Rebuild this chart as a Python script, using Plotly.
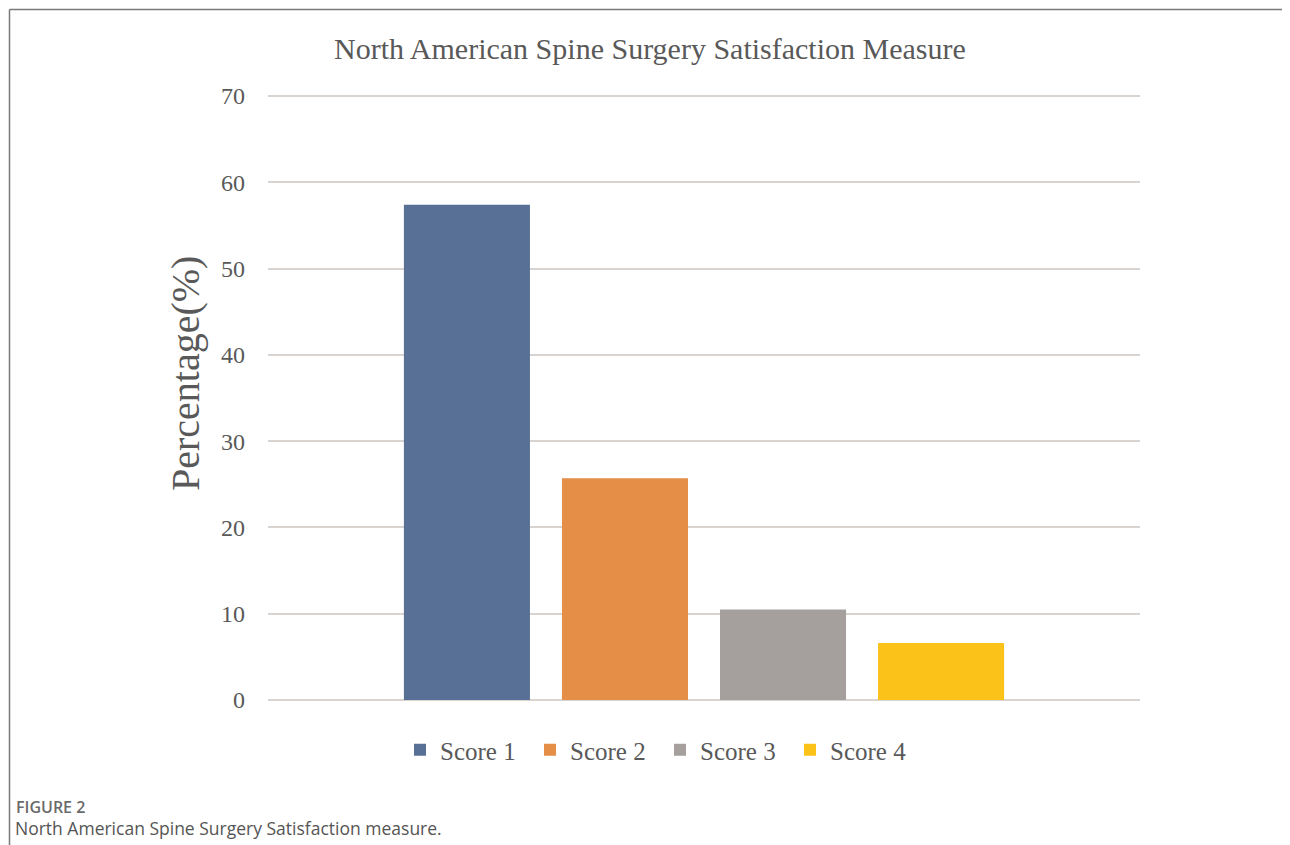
import plotly.graph_objects as go

categories = ["Score 1", "Score 2", "Score 3", "Score 4"]
values = [57.4, 25.7, 10.5, 6.6]
colors = ["#586F96", "#E58E47", "#A5A09E", "#FBC21A"]
y_ticks = [0, 10, 20, 30, 40, 50, 60, 70]

OFF = 8  # page body margin
PAD = 3  # px above the 70 gridline so it is drawn
W, H = 1290 - OFF, 845 - OFF
ML, MR, MT, MB = 268 - OFF, 150, 96 - OFF - PAD, 145
PW, PH = W - ML - MR, H - MT - MB
y_top = 70 + PAD * 70 / (PH - PAD)

def px(x):
    return (x - OFF - ML) / PW

def py(y):
    return (H - MB - (y - OFF)) / PH

fig = go.Figure()
for cat, val, col in zip(categories, values, colors):
    fig.add_trace(go.Bar(x=[""], y=[val], name=cat, marker=dict(color=col, line=dict(width=0))))

serif = "Liberation Serif, Times New Roman, serif"
fig.update_layout(
    width=W, height=H,
    margin=dict(l=ML, r=MR, t=MT, b=MB),
    paper_bgcolor="white", plot_bgcolor="white",
    barmode="group", bargap=0.275, bargroupgap=0.2025,
    showlegend=True,
    legend=dict(orientation="h", x=px(660), xanchor="center", y=py(750), yanchor="middle",
                font=dict(family=serif, size=25, color="#595959"), itemwidth=30,
                entrywidth=85, traceorder="normal"),
    font=dict(family=serif, color="#595959"),
    annotations=[
        dict(text="North American Spine Surgery Satisfaction Measure", xref="paper", yref="paper",
             x=px(650), y=py(49), xanchor="center", yanchor="middle", showarrow=False,
             font=dict(family=serif, size=30, color="#595959")),
        dict(text="Percentage(%)", xref="paper", yref="paper", x=px(185), y=py(374),
             xanchor="center", yanchor="middle", textangle=-90, showarrow=False,
             font=dict(family=serif, size=40, color="#595959")),
        dict(text="FIGURE 2", xref="paper", yref="paper", x=px(14), y=py(807),
             xanchor="left", yanchor="middle", showarrow=False,
             font=dict(family="Open Sans, sans-serif", size=16, color="#6a6a6a", weight=600)),
        dict(text="North American Spine Surgery Satisfaction measure.", xref="paper", yref="paper",
             x=px(13), y=py(828), xanchor="left", yanchor="middle", showarrow=False,
             font=dict(family="Open Sans, sans-serif", size=17.5, color="#555555")),
    ],
    shapes=[
        dict(type="line", xref="paper", yref="paper", x0=px(9.5), x1=px(1300), y0=py(9.5), y1=py(9.5),
             line=dict(color="#7a7a7a", width=1.5)),
        dict(type="line", xref="paper", yref="paper", x0=px(9.5), x1=px(9.5), y0=py(9.5), y1=py(860),
             line=dict(color="#7a7a7a", width=1.5)),
    ],
)
fig.update_xaxes(showticklabels=False, showgrid=False, zeroline=False, showline=False)
fig.update_yaxes(range=[0, y_top], tickvals=y_ticks, showgrid=True, gridcolor="#D9D4D0", gridwidth=1.5,
                 zeroline=True, zerolinecolor="#D9D4D0", zerolinewidth=1.5, showline=False, ticks="",
                 ticklabelstandoff=22,
                 tickfont=dict(family=serif, size=24, color="#595959"))

fig.write_html("out.html")
